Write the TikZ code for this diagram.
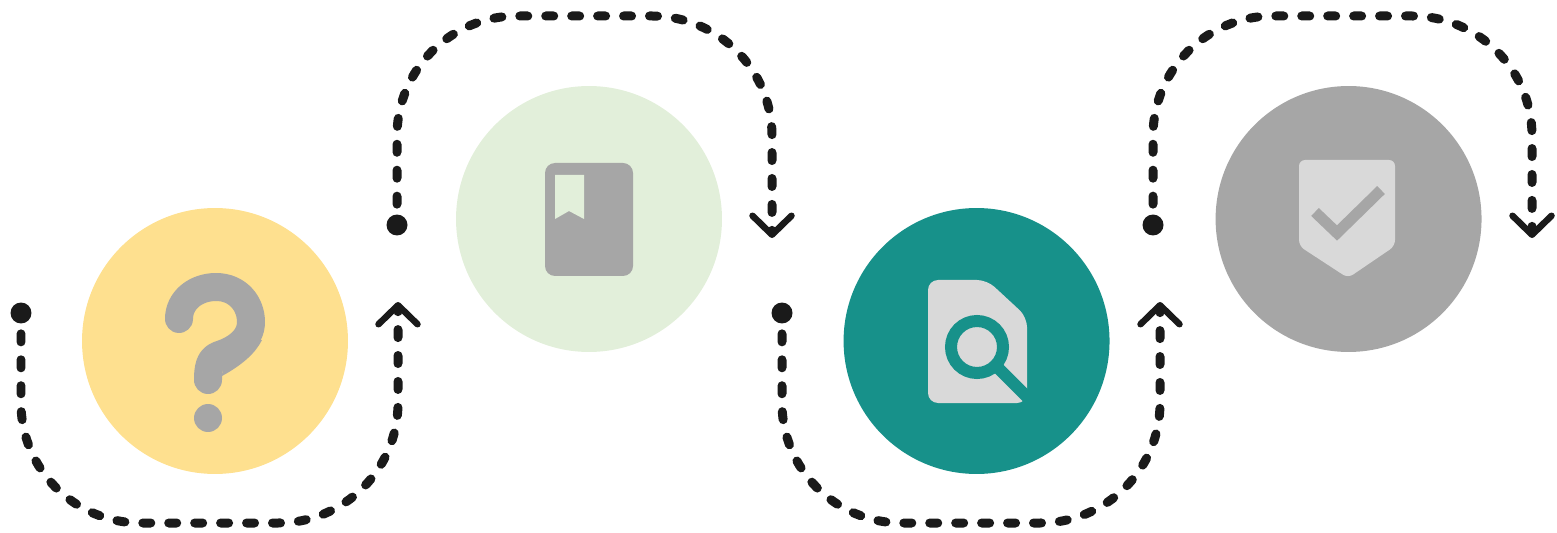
\documentclass[tikz,border=0pt]{standalone}
\usetikzlibrary{arrows.meta,positioning}
\definecolor{askyellow}{HTML}{FEE08F}
\definecolor{bookgreen}{HTML}{E2EFDA}
\definecolor{scanteal}{HTML}{17918A}
\definecolor{iconlight}{HTML}{D9D9D9}
\definecolor{icongrey}{HTML}{A6A6A6}
\definecolor{inkblack}{HTML}{1A1A1A}
\tikzset{
  disc/.style    ={circle, minimum size=5.32cm, inner sep=0pt},
  startdot/.style={circle, minimum size=0.42cm, inner sep=0pt, fill=inkblack},
  flow/.style    ={line width=0.18cm, inkblack, rounded corners=2.4cm, line cap=round,
                   dash pattern=on 0.16cm off 0.359cm, dash phase=0.319cm,
                   -{Straight Barb[length=0.38cm, width=0.78cm, line width=0.13cm, round]}},
  iconfill/.style={fill=icongrey, rounded corners=0.2cm},
  iconpale/.style={fill=iconlight, rounded corners=0.2cm},
  iconline/.style={icongrey, line width=0.22cm, line join=miter},
}
\begin{document}
\begin{tikzpicture}[x=0.02cm, y=-0.02cm]
\useasboundingbox (0,0) rectangle (1557,533);
% the four discs
\node[disc, fill=askyellow] (ask) at (215,341) {};
\node[disc, fill=bookgreen] (book) at (589,219) {};
\node[disc, fill=scanteal, right=9.9cm of ask] (scan) {};
\node[disc, fill=icongrey, right=9.86cm of book] (check) {};
% start dots and arrow ends
\node[startdot] (d1) at (21,313) {};
\node[startdot] (d2) at (397,225) {};
\node[startdot] (d3) at (782,313) {};
\node[startdot] (d4) at (1153,225) {};
\coordinate (a1) at (398,302);
\coordinate (a2) at (772,238);
\coordinate (a3) at (1160,302);
\coordinate (a4) at (1532,238);
% connectors
\draw[flow] (d1) -- (21,523) -- (398,523) -- (a1);
\draw[flow] (d2) -- (397,16) -- (772,16) -- (a2);
\draw[flow] (d3) -- (782,523) -- (1160,523) -- (a3);
\draw[flow] (d4) -- (1153,16) -- (1532,16) -- (a4);
% question mark
\draw[icongrey, line width=0.56cm, line cap=round, line join=round]
  (179,319) .. controls (179,300) and (196,287) .. (216,287)
  .. controls (238,287) and (251,304) .. (251,322)
  .. controls (251,340) and (234,350) .. (222,354)
  .. controls (212,357) and (208,362) .. (208,380);
\fill[icongrey] (225,345) -- (262,340) .. controls (256,352) and (244,364) .. (222,376) -- cycle;
\node[circle, minimum size=0.56cm, inner sep=0pt, fill=icongrey] (qdot) at (208,418) {};
% book
\fill[iconfill] (545,163) rectangle (633,276);
\fill[bookgreen] (555,175) -- (584,175) -- (584,219) -- (569,211) -- (555,219) -- cycle;
% document and lens
\fill[iconpale] (928,280) -- (987,280) -- (1027,317) -- (1027,403) -- (928,403) -- cycle;
\draw[scanteal, line width=0.24cm] (977,347) circle[radius=26];
\draw[scanteal, line width=0.24cm] (998,368) -- (1032,402);
% shield and tick
\fill[iconpale, rounded corners=0.12cm] (1299,160) -- (1395,160) -- (1395,246) -- (1348,278) -- (1299,246) -- cycle;
\draw[iconline] (1315,212) -- (1337,233) -- (1381,190);
\end{tikzpicture}
\end{document}
